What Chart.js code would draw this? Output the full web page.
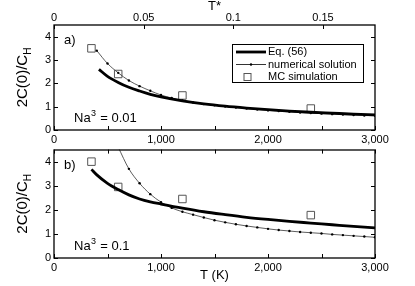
<!DOCTYPE html>
<html>
<head>
<meta charset="utf-8">
<script src="https://cdn.jsdelivr.net/npm/chart.js@4/dist/chart.umd.min.js"></script>
<style>
  html, body { margin: 0; padding: 0; background: #fff; }
  #wrap { position: relative; width: 415px; height: 286px; overflow: hidden; }
  canvas { position: absolute; left: 0; }
  #topChart { top: 0; }
  #botChart { top: 140px; }
</style>
</head>
<body>
<div id="wrap">
  <canvas id="topChart" width="415" height="150"></canvas>
  <canvas id="botChart" width="415" height="146"></canvas>
</div>
<script>
// MC simulation points (both panels share temperatures)
const mcTemp = [350, 600, 1200, 2400];
const mcA = [3.5, 2.4, 1.48, 0.92];
const mcB = [4.0, 2.95, 2.45, 1.78];

// Eq. (56)
const eqTempA = [420, 500, 600, 700, 800, 900, 1000, 1200, 1400, 1600, 1800, 2000, 2200, 2400, 2600, 2800, 3000];
const eqA = [2.6, 2.3, 2.04, 1.83, 1.67, 1.53, 1.42, 1.25, 1.12, 1.02, 0.94, 0.87, 0.81, 0.76, 0.72, 0.68, 0.65];
const eqTempB = [350, 400, 500, 600, 700, 800, 900, 1000, 1200, 1400, 1600, 1800, 2000, 2200, 2400, 2600, 2800, 3000];
const eqB = [3.68, 3.45, 3.1, 2.84, 2.62, 2.45, 2.33, 2.24, 2.07, 1.92, 1.80, 1.69, 1.60, 1.52, 1.45, 1.38, 1.31, 1.25];

// numerical solution
const numTempA = [400, 500, 600, 700, 800, 900, 1000, 1100, 1200, 1300, 1400, 1500, 1600, 1700, 1800, 1900, 2000, 2100, 2200, 2300, 2400, 2500, 2600, 2700, 2800, 2900, 3000];
const numA = [3.4, 2.85, 2.45, 2.12, 1.88, 1.68, 1.50, 1.37, 1.27, 1.18, 1.11, 1.06, 1.01, 0.96, 0.92, 0.88, 0.84, 0.81, 0.78, 0.75, 0.73, 0.70, 0.68, 0.66, 0.64, 0.62, 0.61];
const numTempB = [600, 700, 800, 900, 1000, 1100, 1200, 1300, 1400, 1500, 1600, 1700, 1800, 1900, 2000, 2100, 2200, 2300, 2400, 2500, 2600, 2700, 2800, 2900, 3000];
const numB = [4.6, 3.7, 3.1, 2.65, 2.32, 2.08, 1.92, 1.80, 1.68, 1.57, 1.48, 1.40, 1.33, 1.27, 1.21, 1.16, 1.12, 1.08, 1.05, 1.02, 0.98, 0.95, 0.92, 0.89, 0.86];

// axis ranges and labels
const tMax = 3000;
const tStarMax = 0.179;
const yMax = 4.5;
const panelLabels = ["a)", "b)"];
const densityValues = ["0.01", "0.1"];
const legendLabels = ["Eq. (56)", "numerical solution", "MC simulation"];

const FONT = "'Liberation Sans', Arial, sans-serif";
Chart.defaults.font.family = FONT;
Chart.defaults.color = "#000";

function pts(xs, ys) {
  return xs.map((x, i) => ({ x: x, y: ys[i] }));
}

function makeDatasets(eqT, eq, numT, num, mc) {
  return [
    {
      label: legendLabels[0], data: pts(eqT, eq), showLine: true,
      borderColor: "#000", borderWidth: 2.8, pointRadius: 0,
      cubicInterpolationMode: "monotone"
    },
    {
      label: legendLabels[1], data: pts(numT, num), showLine: true,
      borderColor: "#333", borderWidth: 0.8, pointRadius: 1.2,
      pointBackgroundColor: "#000", pointBorderWidth: 0,
      cubicInterpolationMode: "monotone"
    },
    {
      label: legendLabels[2], data: pts(mcTemp, mc), showLine: false,
      pointStyle: "rect", pointRadius: 5.3, borderColor: "#555",
      borderWidth: 1, backgroundColor: "rgba(255,255,255,0)"
    }
  ];
}

// frame, inward ticks and text
function decor(idx) {
  return {
    id: "decor" + idx,
    afterDraw(chart) {
      const ctx = chart.ctx, a = chart.chartArea, s = chart.scales;
      const tl = 4;
      ctx.save();
      ctx.strokeStyle = "#000";
      ctx.lineWidth = 1;
      ctx.beginPath();
      s.y.ticks.forEach(t => {
        const p = Math.round(s.y.getPixelForValue(t.value)) + 0.5;
        ctx.moveTo(a.left, p); ctx.lineTo(a.left + tl, p);
        ctx.moveTo(a.right, p); ctx.lineTo(a.right - tl, p);
      });
      s.x.ticks.forEach(t => {
        const p = Math.round(s.x.getPixelForValue(t.value)) + 0.5;
        ctx.moveTo(p, a.bottom); ctx.lineTo(p, a.bottom - tl);
        if (!s.x2) { ctx.moveTo(p, a.top); ctx.lineTo(p, a.top + tl); }
      });
      if (s.x2) {
        s.x2.ticks.forEach(t => {
          const p = Math.round(s.x2.getPixelForValue(t.value)) + 0.5;
          ctx.moveTo(p, a.top); ctx.lineTo(p, a.top + tl);
        });
      }
      ctx.stroke();
      ctx.lineWidth = 1.3;
      ctx.strokeRect(Math.round(a.left), Math.round(a.top), Math.round(a.right - a.left), Math.round(a.bottom - a.top));

      // y title: 2C(0)/C_H
      const cy = (a.top + a.bottom) / 2;
      ctx.save();
      ctx.translate(27, cy);
      ctx.rotate(-Math.PI / 2);
      ctx.fillStyle = "#000";
      ctx.textBaseline = "alphabetic";
      ctx.textAlign = "left";
      ctx.font = "15px " + FONT;
      const main = "2C(0)/C";
      const w1 = ctx.measureText(main).width;
      ctx.font = "10px " + FONT;
      const w2 = ctx.measureText("H").width;
      const x0 = -(w1 + w2) / 2;
      ctx.font = "15px " + FONT;
      ctx.fillText(main, x0, 0);
      ctx.font = "10px " + FONT;
      ctx.fillText("H", x0 + w1, 4);
      ctx.restore();

      // panel and density labels
      ctx.fillStyle = "#000";
      ctx.font = "13px " + FONT;
      ctx.textAlign = "left";
      ctx.textBaseline = "alphabetic";
      ctx.fillText(panelLabels[idx], a.left + 10, a.top + 19);
      const nx = a.left + 20, ny = a.bottom - 8;
      ctx.fillText("Na", nx, ny);
      const wNa = ctx.measureText("Na").width;
      ctx.font = "9px " + FONT;
      ctx.fillText("3", nx + wNa + 0.5, ny - 6);
      const w3 = ctx.measureText("3").width;
      ctx.font = "13px " + FONT;
      ctx.fillText(" = " + densityValues[idx], nx + wNa + w3 + 1, ny);

      if (idx === 0) {
        // legend box
        const lx = a.right - 143, ly = a.top + 19, lw = 131, lh = 38;
        ctx.fillStyle = "#fff";
        ctx.fillRect(lx, ly, lw, lh);
        ctx.lineWidth = 1;
        ctx.strokeStyle = "#000";
        ctx.strokeRect(lx + 0.5, ly + 0.5, lw, lh);
        const rows = [ly + 8, ly + 20.5, ly + 33];
        const tx = lx + 36;
        ctx.lineWidth = 2.8;
        ctx.beginPath(); ctx.moveTo(lx + 4, rows[0]); ctx.lineTo(lx + 34, rows[0]); ctx.stroke();
        ctx.lineWidth = 0.8;
        ctx.beginPath(); ctx.moveTo(lx + 4, rows[1]); ctx.lineTo(lx + 34, rows[1]); ctx.stroke();
        ctx.fillStyle = "#000";
        ctx.beginPath(); ctx.arc(lx + 19, rows[1], 1.2, 0, Math.PI * 2); ctx.fill();
        ctx.strokeStyle = "#555";
        ctx.lineWidth = 1;
        ctx.strokeRect(lx + 12, rows[2] - 3.5, 7, 7);
        ctx.font = "11px " + FONT;
        ctx.textBaseline = "middle";
        legendLabels.forEach((l, i) => ctx.fillText(l, tx, rows[i]));
      }
      ctx.restore();
    }
  };
}

function xTicks(v) {
  return v % 1000 === 0 ? v.toLocaleString("en-US") : "";
}

function starTicks(v) {
  return String(+v.toFixed(3));
}

const commonY = {
  type: "linear", min: 0, max: yMax,
  grid: { display: false, drawTicks: false }, border: { display: false },
  ticks: { stepSize: 1, includeBounds: false, padding: 3, font: { size: 11 } },
  afterFit: s => { s.width = 54; }
};

// panel a
new Chart(document.getElementById("topChart"), {
  type: "scatter",
  data: { datasets: makeDatasets(eqTempA, eqA, numTempA, numA, mcA) },
  options: {
    responsive: false, animation: false, events: [], devicePixelRatio: 1,
    layout: { padding: { left: 0, right: 40, top: 0, bottom: 0 } },
    plugins: { legend: { display: false }, tooltip: { enabled: false } },
    scales: {
      x: {
        type: "linear", position: "bottom", min: 0, max: tMax,
        grid: { display: false, drawTicks: false }, border: { display: false },
        ticks: { stepSize: 500, autoSkip: false, maxRotation: 0, padding: 3, font: { size: 11 }, callback: xTicks },
        afterFit: s => { s.height = 20; }
      },
      x2: {
        type: "linear", position: "top", min: 0, max: tStarMax,
        grid: { display: false, drawTicks: false }, border: { display: false },
        ticks: { stepSize: 0.05, includeBounds: false, autoSkip: false, maxRotation: 0, padding: 0, font: { size: 11 }, callback: starTicks },
        title: { display: true, text: "T*", font: { size: 13, lineHeight: 1 }, padding: { top: 0, bottom: 0 } },
        afterFit: s => { s.height = 25; }
      },
      y: commonY
    }
  },
  plugins: [decor(0)]
});

// panel b
new Chart(document.getElementById("botChart"), {
  type: "scatter",
  data: { datasets: makeDatasets(eqTempB, eqB, numTempB, numB, mcB) },
  options: {
    responsive: false, animation: false, events: [], devicePixelRatio: 1,
    layout: { padding: { left: 0, right: 40, top: 9, bottom: 0 } },
    plugins: { legend: { display: false }, tooltip: { enabled: false } },
    scales: {
      x: {
        type: "linear", position: "bottom", min: 0, max: tMax,
        grid: { display: false, drawTicks: false }, border: { display: false },
        ticks: { stepSize: 500, autoSkip: false, maxRotation: 0, padding: 3, font: { size: 11 }, callback: xTicks },
        title: { display: true, text: "T (K)", font: { size: 13 }, padding: { top: 0, bottom: 3 } },
        afterFit: s => { s.height = 28; }
      },
      y: commonY
    }
  },
  plugins: [decor(1)]
});
</script>
</body>
</html>
